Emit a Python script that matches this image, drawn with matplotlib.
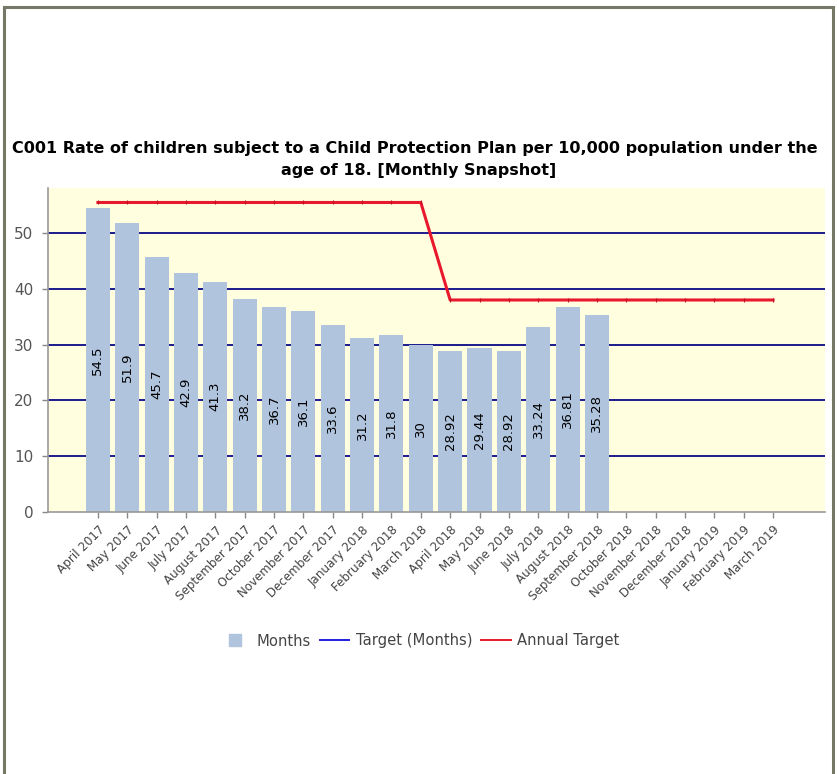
import matplotlib
matplotlib.use("Agg")
import matplotlib.pyplot as plt
from matplotlib.lines import Line2D

months = ["April 2017", "May 2017", "June 2017", "July 2017", "August 2017",
          "September 2017", "October 2017", "November 2017", "December 2017",
          "January 2018", "February 2018", "March 2018", "April 2018", "May 2018",
          "June 2018", "July 2018", "August 2018", "September 2018", "October 2018",
          "November 2018", "December 2018", "January 2019", "February 2019",
          "March 2019"]
rate_values = [54.5, 51.9, 45.7, 42.9, 41.3, 38.2, 36.7, 36.1, 33.6, 31.2, 31.8,
               30, 28.92, 29.44, 28.92, 33.24, 36.81, 35.28]
rate_labels = ["54.5", "51.9", "45.7", "42.9", "41.3", "38.2", "36.7", "36.1",
               "33.6", "31.2", "31.8", "30", "28.92", "29.44", "28.92", "33.24",
               "36.81", "35.28"]
annual_target = [55.5] * 12 + [38.0] * 12
y_ticks = [0, 10, 20, 30, 40, 50]
target_lines = [10, 20, 30, 40, 50]

plt.rcParams["font.family"] = ["DejaVu Sans"]

W, H = 839, 774
fig = plt.figure(figsize=(W / 100, H / 100), dpi=100)
fig.patch.set_facecolor("white")

ax = fig.add_axes([48 / W, 1 - 511.7 / H, (825 - 48) / W, (511.7 - 188) / H])
ax.set_facecolor("#FFFEDF")

x = list(range(len(months)))

for t in target_lines:
    ax.axhline(t, color="#1a1a8c", lw=1.4, zorder=1)

bars = ax.bar(x[:len(rate_values)], rate_values, width=0.82,
              color="#B0C4DE", zorder=2)
for xi, v, lab in zip(x, rate_values, rate_labels):
    ax.text(xi, v / 2, lab, rotation=90, ha="center", va="center",
            fontsize=9.5, color="black", zorder=4)

ax.plot(x, annual_target, color="#E8192C", lw=2.2, zorder=3,
        marker="|", markersize=3.5, markeredgecolor="#C01028", markeredgewidth=0.8)

ax.set_xlim(-1.7, 24.77)
ax.set_ylim(0, 58.1)
ax.set_yticks(y_ticks)
ax.set_yticklabels([str(t) for t in y_ticks], fontsize=11, color="#555555")
ax.set_xticks(x)
ax.set_xticklabels(months, rotation=45, ha="right", rotation_mode="anchor",
                   fontsize=8.6, color="#444444")
ax.tick_params(axis="both", length=4.5, color="#888888", width=1)
ax.tick_params(axis="x", pad=4)
ax.tick_params(axis="y", pad=6)
for side in ("top", "right"):
    ax.spines[side].set_visible(False)
for side in ("left", "bottom"):
    ax.spines[side].set_color("#999999")
    ax.spines[side].set_linewidth(1.2)

fig.text(415 / W, 1 - 148 / H,
         "C001 Rate of children subject to a Child Protection Plan per 10,000 population under the",
         ha="center", va="center", fontsize=11.5, fontweight="bold", color="black")
fig.text(419 / W, 1 - 170 / H, "age of 18. [Monthly Snapshot]",
         ha="center", va="center", fontsize=11.5, fontweight="bold", color="black")

handles = [Line2D([0], [0], linestyle="none", marker="s", markersize=9,
                  markerfacecolor="#B0C4DE", markeredgecolor="#B0C4DE", label="Months"),
           Line2D([0], [0], color="#2020E0", lw=1.4, label="Target (Months)"),
           Line2D([0], [0], color="#E8192C", lw=1.4, label="Annual Target")]
leg = fig.legend(handles=handles, loc="center", bbox_to_anchor=(420 / W, 1 - 641 / H),
                 ncol=3, frameon=False, fontsize=10.6, handlelength=2.0,
                 handletextpad=0.45, columnspacing=0.6, handleheight=0.9)
for t in leg.get_texts():
    t.set_color("#444444")

# outer frame
frame_col = "#777768"
fig.add_artist(Line2D([4 / W, 833 / W], [1 - 7 / H, 1 - 7 / H], color=frame_col,
                      lw=2.2, transform=fig.transFigure))
fig.add_artist(Line2D([4 / W, 4 / W], [0, 1 - 7 / H], color=frame_col,
                      lw=2.2, transform=fig.transFigure))
fig.add_artist(Line2D([833 / W, 833 / W], [0, 1 - 7 / H], color=frame_col,
                      lw=2.2, transform=fig.transFigure))

fig.savefig("out.png", dpi=100, facecolor="white")
